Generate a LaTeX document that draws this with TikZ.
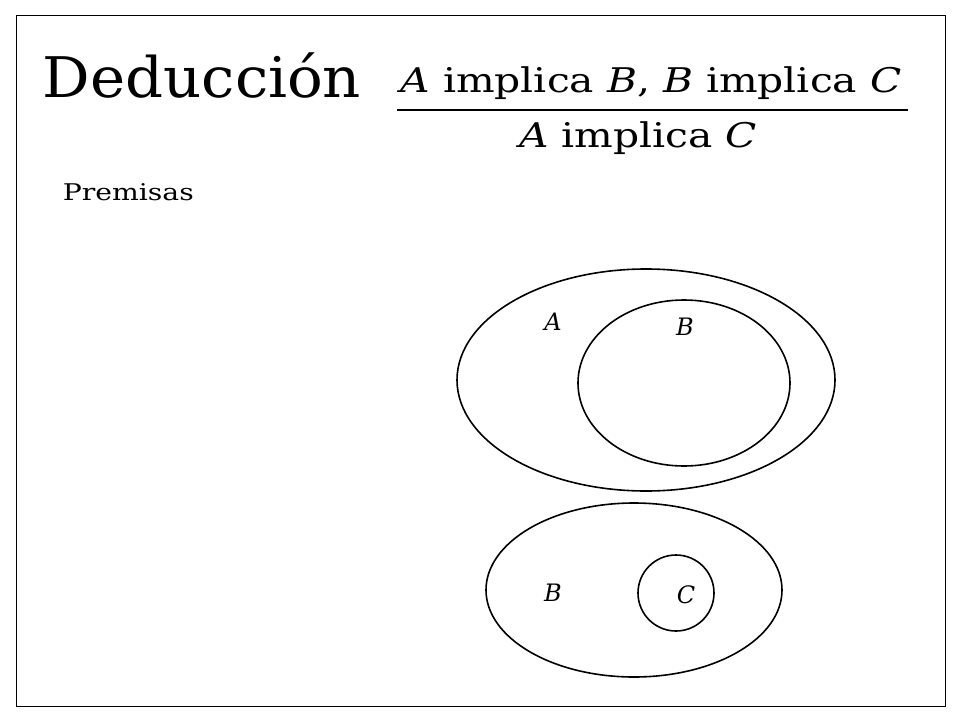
\documentclass[tikz,border=0pt]{standalone}
\usepackage{fontspec}
\usepackage{graphicx}
\setmainfont{DejaVu Serif}
\begin{document}
\begin{tikzpicture}[x=1pt,y=-1pt,line width=1.6pt,
  lbl/.style={font=\fontsize{24}{28}\selectfont\itshape}]
\useasboundingbox (0,0) rectangle (960,720);
\draw[line width=0.8pt] (16,15) rectangle (945,706);
\node[anchor=base west,inner sep=0] (title) at (42,97) {\scalebox{1.06}[1]{\fontsize{56}{64}\selectfont Deducción}};
\node[anchor=base,inner sep=0] (prem) at (651,92) {\scalebox{1.2}[1]{\fontsize{34}{40}\selectfont \textit{A} implica \textit{B}, \textit{B} implica \textit{C}}};
\coordinate (l1) at (397,110); \coordinate (l2) at (908,110);
\draw[line width=1.6pt] (l1) -- (l2);
\node[anchor=base,inner sep=0] (concl) at (638,147) {\scalebox{1.2}[1]{\fontsize{34}{40}\selectfont \textit{A} implica \textit{C}}};
\node[anchor=base west,inner sep=0] (premisas) at (62,200) {\scalebox{1.23}[1]{\fontsize{23}{27}\selectfont Premisas}};
\draw (646,380) ellipse [x radius=189, y radius=111];
\draw (684,383) ellipse [x radius=106, y radius=83];
\node[lbl] (la) at (553,322) {A};
\node[lbl] (lb) at (685,327) {B};
\draw (634,590) ellipse [x radius=148, y radius=87];
\draw (676,593) circle [radius=38];
\node[lbl] (lb2) at (553,593) {B};
\node[lbl] (lc) at (686,595) {C};
\end{tikzpicture}
\end{document}
